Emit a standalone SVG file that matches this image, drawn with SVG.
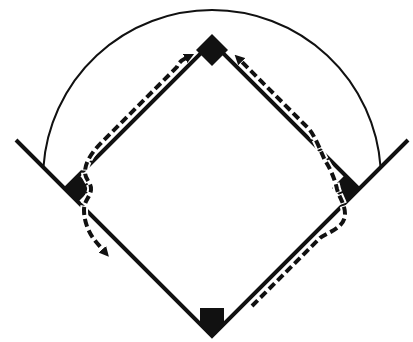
<svg xmlns="http://www.w3.org/2000/svg" width="413" height="342" viewBox="0 0 413 342">
  <style>
    .line { fill: none; stroke: #111; stroke-width: 4; stroke-linejoin: miter; }
    .arc { fill: none; stroke: #111; stroke-width: 2; }
    .base { fill: #111; }
    .halo { fill: none; stroke: #fff; stroke-width: 8; stroke-dasharray: 10 2; stroke-dashoffset: 1; }
    .run { fill: none; stroke: #111; stroke-width: 4; stroke-dasharray: 8 4; }
  </style>
  <defs>
    <marker id="arrow" viewBox="0 0 10 10" refX="1" refY="5" markerWidth="10" markerHeight="10" markerUnits="userSpaceOnUse" orient="auto-start-reverse">
      <path d="M0,0 L10,5 L0,10 z" fill="#111"/>
    </marker>
  </defs>
  <rect width="413" height="342" fill="#fff"/>
  <g id="field">
    <path class="arc" d="M 43.4 167.4 A 169 169 0 0 1 380.6 167.4"/>
    <polyline class="line" points="16,140 212,336 408,140"/>
    <polyline class="line" points="65,189 212,42 359,189"/>
  </g>
  <g id="second-base"><polygon class="base" points="212,34 228,50 212,66 196,50"/></g>
  <g id="third-base"><polygon class="base" points="78,174 92,188 78,202 64,188"/></g>
  <g id="first-base"><polygon class="base" points="346,174 360,188 346,202 332,188"/></g>
  <g id="home-plate"><polygon class="base" points="200,308 224,308 224,324 212,336 200,324"/></g>
  <g id="connectors">
    <path class="halo" d="M 186 58 C 182 60 179 62 177 67 L 102 142 C 94 150 85 161 85 172 C 85 180 92 183 91 190 C 90 197 84 201 84 210 C 84 222 89 234 97 243 L 103 250"/>
    <path class="run" marker-start="url(#arrow)" marker-end="url(#arrow)" d="M 186 58 C 182 60 179 62 177 67 L 102 142 C 94 150 85 161 85 172 C 85 180 92 183 91 190 C 90 197 84 201 84 210 C 84 222 89 234 97 243 L 103 250"/>
    <path class="halo" d="M 252 306 L 320 238 C 328 232 345 228 345 214 C 345 204 339 197 337 189 C 335 180 331 170 326 162 C 322 156 315 133 306 126 L 241 61"/>
    <path class="run" marker-end="url(#arrow)" d="M 252 306 L 320 238 C 328 232 345 228 345 214 C 345 204 339 197 337 189 C 335 180 331 170 326 162 C 322 156 315 133 306 126 L 241 61"/>
  </g>
</svg>
